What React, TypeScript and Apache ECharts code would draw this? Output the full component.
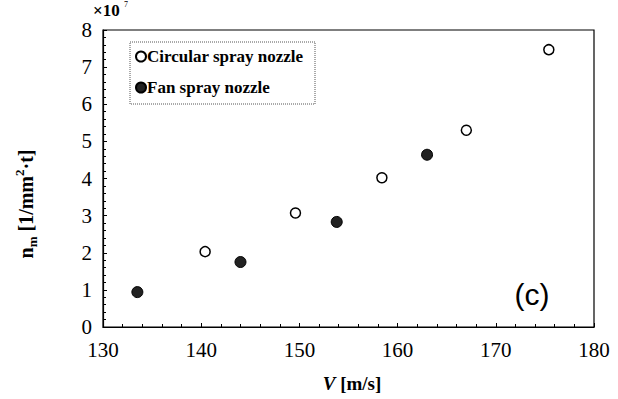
import React, { useEffect, useRef } from "react";
import * as echarts from "echarts";

const circularX = [140.4, 149.6, 158.4, 167.0, 175.4];
const circularY = [2.03, 3.07, 4.02, 5.3, 7.47];
const fanX = [133.5, 144.0, 153.8, 163.0];
const fanY = [0.94, 1.75, 2.83, 4.64];
const seriesNames = ["Circular spray nozzle", "Fan spray nozzle"];
const xLabel = "V";
const xUnit = " [m/s]";
const panelLabel = "(c)";

const SERIF = "'Liberation Serif', 'Times New Roman', serif";

export default function App() {
  const ref = useRef<HTMLDivElement>(null);
  useEffect(() => {
    if (!ref.current) return;
    const chart = echarts.init(ref.current, null, { renderer: "svg" });
    const zip = (xs: number[], ys: number[]) => xs.map((x, i) => [x, ys[i]]);
    chart.setOption({
      animation: false,
      backgroundColor: "#fff",
      grid: {
        left: 103,
        right: 24,
        top: 30,
        bottom: 72,
        show: true,
        borderColor: "#000",
        borderWidth: 1.2,
        backgroundColor: "transparent",
      },
      xAxis: {
        type: "value",
        min: 130,
        max: 180,
        interval: 10,
        axisLine: { show: true, lineStyle: { color: "#000", width: 1.2 } },
        axisTick: { show: true, inside: true, length: 4, lineStyle: { color: "#000" } },
        minorTick: { show: true, splitNumber: 5, length: 3, lineStyle: { color: "#000" } },
        splitLine: { show: false },
        axisLabel: { color: "#000", fontFamily: SERIF, fontSize: 21, margin: 12 },
      },
      yAxis: {
        type: "value",
        min: 0,
        max: 8,
        interval: 1,
        axisLine: { show: true, lineStyle: { color: "#000", width: 1.2 } },
        axisTick: { show: true, inside: true, length: 4, lineStyle: { color: "#000" } },
        minorTick: { show: true, splitNumber: 5, length: 3, lineStyle: { color: "#000" } },
        splitLine: { show: false },
        axisLabel: { color: "#000", fontFamily: SERIF, fontSize: 21, margin: 11 },
      },
      legend: {
        orient: "vertical",
        left: 135,
        top: 48,
        itemGap: 14,
        itemWidth: 10,
        itemHeight: 10,
        padding: 0,
        icon: "circle",
        textStyle: { color: "#000", fontFamily: SERIF, fontSize: 17, fontWeight: "bold", padding: [0, 0, 0, -4] },
        data: seriesNames,
      },
      graphic: [
        {
          type: "rect",
          shape: { x: 130, y: 42, width: 185, height: 62 },
          style: { fill: "none", stroke: "#555", lineWidth: 1, lineDash: [1, 1] },
          z: 1,
        },
        {
          type: "text",
          x: 93,
          y: 2,
          style: {
            text: "×10",
            fontFamily: SERIF,
            fontSize: 17,
            fontWeight: "bold",
            fill: "#000",
          },
        },
        {
          type: "text",
          x: 124,
          y: 0,
          style: { text: "7", fontFamily: SERIF, fontSize: 8, fill: "#000" },
        },
        {
          type: "text",
          x: 26,
          y: 204,
          rotation: Math.PI / 2,
          style: {
            text: "{a|n}{s|m}{a| [1/mm}{p|2}{a|·t]}",
            align: "center",
            verticalAlign: "middle",
            rich: {
              a: { fontFamily: SERIF, fontSize: 20, fontWeight: "bold", fill: "#000", lineHeight: 26, verticalAlign: "middle" },
              s: { fontFamily: SERIF, fontSize: 13, fontWeight: "bold", fill: "#000", lineHeight: 26, verticalAlign: "bottom", padding: [8, 0, 0, 0] },
              p: { fontFamily: SERIF, fontSize: 13, fontWeight: "bold", fill: "#000", lineHeight: 26, verticalAlign: "top", padding: [0, 0, 8, 0] },
            },
          },
        },
        {
          type: "text",
          x: 352,
          y: 383,
          style: {
            text: "{i|" + xLabel + "}{a|" + xUnit + "}",
            align: "center",
            verticalAlign: "middle",
            rich: {
              i: { fontFamily: SERIF, fontSize: 19, fontWeight: "bold", fontStyle: "italic", fill: "#000" },
              a: { fontFamily: SERIF, fontSize: 19, fontWeight: "bold", fill: "#000" },
            },
          },
        },
        {
          type: "text",
          x: 532,
          y: 294,
          style: {
            text: panelLabel,
            align: "center",
            verticalAlign: "middle",
            fontFamily: "'Liberation Sans', Arial, sans-serif",
            fontSize: 30,
            fill: "#000",
          },
        },
      ],
      series: [
        {
          name: seriesNames[0],
          type: "scatter",
          symbol: "circle",
          symbolSize: 10,
          itemStyle: { color: "#fff", borderColor: "#000", borderWidth: 1.5, opacity: 1 },
          data: zip(circularX, circularY),
          z: 3,
        },
        {
          name: seriesNames[1],
          type: "scatter",
          symbol: "circle",
          symbolSize: 11,
          itemStyle: { color: "#222", borderColor: "#000", borderWidth: 1, opacity: 1 },
          data: zip(fanX, fanY),
          z: 3,
        },
      ],
    });
    return () => chart.dispose();
  }, []);
  return <div ref={ref} style={{ width: 618, height: 399, position: "absolute", left: 0, top: 0 }} />;
}
